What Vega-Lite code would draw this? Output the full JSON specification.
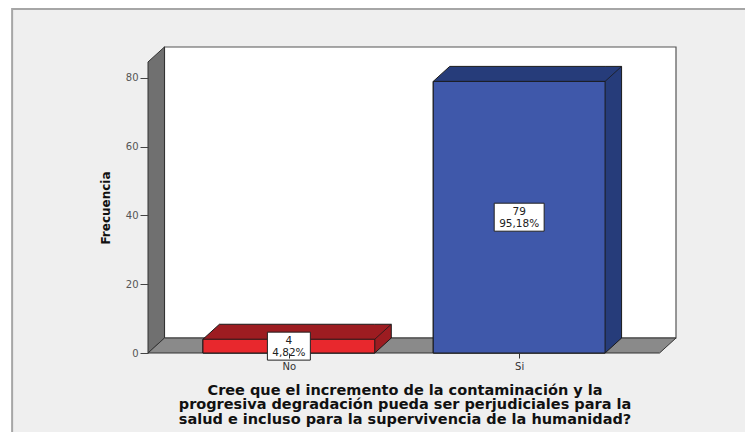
{
  "$schema": "https://vega.github.io/schema/vega-lite/v6.json",
  "width": 528,
  "height": 306,
  "autosize": {"type": "none"},
  "padding": {"left": 148, "top": 47, "right": 69, "bottom": 79},
  "background": "white",
  "config": {"view": {"stroke": null}},
  "data": {"values": [
    {"respuesta": "No", "frecuencia": 4, "porcentaje": 4.82},
    {"respuesta": "Si", "frecuencia": 79, "porcentaje": 95.18}
  ]},
  "layer": [
    {
      "data": {"values": [{}]},
      "mark": {"type": "rect", "fill": "#efefef", "stroke": "#a6a6a6", "strokeWidth": 2},
      "encoding": {
        "x": {"datum": -0.2017, "type": "quantitative", "scale": {"domain": [0.3883, 2.681], "nice": false, "zero": false}},
        "x2": {"datum": 3.2},
        "y": {"datum": 100.07, "type": "quantitative", "scale": {"domain": [0, 89], "nice": false, "zero": false}},
        "y2": {"datum": -30}
      }
    },
    {
      "data": {"values": [{}]},
      "mark": {"type": "rect", "fill": "white", "stroke": "#555555", "strokeWidth": 1.2},
      "encoding": {
        "x": {"datum": 0.4599, "type": "quantitative"},
        "x2": {"datum": 2.681},
        "y": {"datum": 4.36, "type": "quantitative"},
        "y2": {"datum": 89}
      }
    },
    {
      "data": {"values": [{"k": 0}, {"k": 1}]},
      "transform": [
        {"calculate": "0.3883 + datum.k * 0.0716", "as": "wx"},
        {"calculate": "datum.k * 4.36", "as": "wy"},
        {"calculate": "84.65 + datum.k * 4.36", "as": "wy2"}
      ],
      "mark": {"type": "area", "orient": "vertical", "fill": "#707070", "stroke": "#333333", "strokeWidth": 1},
      "encoding": {
        "x": {"field": "wx", "type": "quantitative"},
        "y": {"field": "wy", "type": "quantitative", "stack": null},
        "y2": {"field": "wy2"}
      }
    },
    {
      "data": {"values": [{"k": 0}, {"k": 1}]},
      "transform": [
        {"calculate": "datum.k * 4.36", "as": "fy"},
        {"calculate": "0.3883 + datum.k * 0.0716", "as": "fx"},
        {"calculate": "2.6095 + datum.k * 0.0716", "as": "fx2"}
      ],
      "mark": {"type": "area", "orient": "horizontal", "fill": "#8a8a8a", "stroke": "#333333", "strokeWidth": 1},
      "encoding": {
        "y": {"field": "fy", "type": "quantitative"},
        "x": {"field": "fx", "type": "quantitative", "stack": null},
        "x2": {"field": "fx2"}
      }
    },
    {
      "transform": [
        {"calculate": "indexof(['No','Si'], datum.respuesta) + 1", "as": "idx"},
        {"calculate": "[0,1,2,3]", "as": "pts"},
        {"flatten": ["pts"]},
        {"calculate": "datum.idx + [-0.3731, -0.3015, 0.3731, 0.4447][datum.pts]", "as": "ex"},
        {"calculate": "[0, 0, 0, 4.36][datum.pts]", "as": "ey"},
        {"calculate": "datum.frecuencia + [0, 4.36, 4.36, 4.36][datum.pts]", "as": "ey2"}
      ],
      "mark": {"type": "area", "orient": "vertical", "stroke": "#1a1a1a", "strokeWidth": 1},
      "encoding": {
        "x": {"field": "ex", "type": "quantitative"},
        "y": {"field": "ey", "type": "quantitative", "stack": null},
        "y2": {"field": "ey2"},
        "detail": {"field": "respuesta", "type": "nominal"},
        "fill": {"condition": {"test": "datum.respuesta == 'No'", "value": "#9d1c21"}, "value": "#263c7a"}
      }
    },
    {
      "transform": [
        {"calculate": "indexof(['No','Si'], datum.respuesta) + 1", "as": "idx"},
        {"calculate": "datum.idx - 0.3731", "as": "bx"},
        {"calculate": "datum.idx + 0.3731", "as": "bx2"}
      ],
      "mark": {"type": "rect", "stroke": "#1a1a1a", "strokeWidth": 1},
      "encoding": {
        "x": {
          "field": "bx", "type": "quantitative",
          "axis": {
            "values": [1, 2],
            "labelExpr": "datum.value == 1 ? 'No' : 'Si'",
            "domain": false, "grid": false,
            "tickSize": 5, "tickColor": "#333333", "tickWidth": 1,
            "labelFont": "DejaVu Sans", "labelFontSize": 10, "labelColor": "#333333",
            "labelPadding": 3, "labelFlush": false, "labelOverlap": false,
            "title": ["Cree que el incremento de la contaminación y la", "progresiva degradación pueda ser perjudiciales para la", "salud e incluso para la supervivencia de la humanidad?"],
            "titleFont": "DejaVu Sans", "titleFontSize": 14.5, "titleFontWeight": "bold", "titleColor": "#111111",
            "titleLineHeight": 14.8, "titleX": 256.5, "titleY": 41, "titleAlign": "center", "titleBaseline": "alphabetic",
            "zindex": 1
          }
        },
        "x2": {"field": "bx2"},
        "y": {
          "field": "frecuencia", "type": "quantitative",
          "axis": {
            "values": [0, 20, 40, 60, 80],
            "domain": false, "grid": false,
            "tickSize": 8, "tickColor": "#444444", "tickWidth": 1,
            "labelFont": "DejaVu Sans", "labelFontSize": 10, "labelColor": "#555555",
            "labelPadding": 2, "labelFlush": false,
            "title": "Frecuencia",
            "titleFont": "DejaVu Sans", "titleFontSize": 12, "titleFontWeight": "bold", "titleColor": "#111111",
            "titleX": -43, "titleY": 160.5, "titleAngle": -90, "titleAlign": "center", "titleBaseline": "middle",
            "zindex": 1
          }
        },
        "y2": {"datum": 0},
        "fill": {"condition": {"test": "datum.respuesta == 'No'", "value": "#e8282d"}, "value": "#3f58aa"}
      }
    },
    {
      "transform": [
        {"calculate": "indexof(['No','Si'], datum.respuesta) + 1", "as": "idx"},
        {"calculate": "datum.idx + 0.3731", "as": "rx"},
        {"calculate": "datum.idx + 0.4447", "as": "rx2"},
        {"calculate": "datum.frecuencia + 4.36", "as": "ry2"}
      ],
      "mark": {"type": "rule", "stroke": "#1a1a1a", "strokeWidth": 0.8},
      "encoding": {
        "x": {"field": "rx", "type": "quantitative"},
        "x2": {"field": "rx2"},
        "y": {"field": "frecuencia", "type": "quantitative"},
        "y2": {"field": "ry2"}
      }
    },
    {
      "transform": [
        {"calculate": "indexof(['No','Si'], datum.respuesta) + 1", "as": "idx"},
        {"calculate": "replace(format(datum.porcentaje, '.2f'), '.', ',') + '%'", "as": "pct"},
        {"calculate": "(3.5 * length(datum.pct) + 4) / 230.5", "as": "hw"},
        {"calculate": "datum.idx - datum.hw", "as": "lx"},
        {"calculate": "datum.idx + datum.hw", "as": "lx2"},
        {"calculate": "datum.frecuencia / 2 - 4.07", "as": "ly"},
        {"calculate": "datum.frecuencia / 2 + 4.07", "as": "ly2"}
      ],
      "mark": {"type": "rect", "fill": "white", "stroke": "#222222", "strokeWidth": 1},
      "encoding": {
        "x": {"field": "lx", "type": "quantitative"},
        "x2": {"field": "lx2"},
        "y": {"field": "ly", "type": "quantitative"},
        "y2": {"field": "ly2"}
      }
    },
    {
      "transform": [
        {"calculate": "indexof(['No','Si'], datum.respuesta) + 1", "as": "idx"},
        {"calculate": "datum.frecuencia / 2", "as": "mid"},
        {"calculate": "[toString(datum.frecuencia), replace(format(datum.porcentaje, '.2f'), '.', ',') + '%']", "as": "etiqueta"}
      ],
      "mark": {"type": "text", "font": "DejaVu Sans", "fontSize": 10.5, "lineHeight": 11.5, "align": "center", "baseline": "middle", "dy": -5, "fill": "#222222"},
      "encoding": {
        "x": {"field": "idx", "type": "quantitative"},
        "y": {"field": "mid", "type": "quantitative"},
        "text": {"field": "etiqueta"}
      }
    }
  ]
}
